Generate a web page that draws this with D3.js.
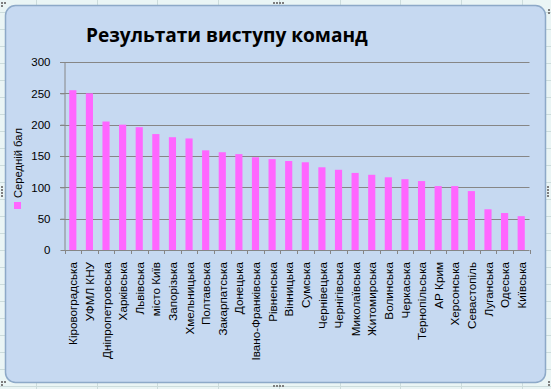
<!DOCTYPE html>
<html><head><meta charset="utf-8">
<script src="https://cdn.jsdelivr.net/npm/d3@7/dist/d3.min.js"></script>
<style>html,body{margin:0;padding:0;background:#EAF5F5;}svg{display:block;}</style>
</head><body>
<svg id="c" width="551" height="389"></svg>
<script>
const title = "Результати виступу команд";
const seriesName = "Середній бал";
const categories = ["Кіровоградська","УФМЛ КНУ","Дніпропетровська","Харківська","Львівська","місто Київ","Запорізька","Хмельницька","Полтавська","Закарпатська","Донецька","Івано-Франківська","Рівненська","Вінницька","Сумська","Чернівецька","Чернігівська","Миколаївська","Житомирська","Волинська","Черкаська","Тернопільська","АР Крим","Херсонська","Севастопіль","Луганська","Одеська","Київська"];
const values = [255,250,205,200,196,185,180,178,159,156,153,148,145,142,140,132,128,123,120,116,113,110,102,102,94,65,59,54];
const yTicks = [0,50,100,150,200,250,300];

const svg = d3.select("#c");
// spreadsheet background grid
const bg = svg.append("g");
bg.append("rect").attr("width",551).attr("height",389).attr("fill","#EAF5F5");
d3.range(36,551,60.7).forEach(x=>bg.append("line").attr("x1",Math.round(x)+0.5).attr("x2",Math.round(x)+0.5).attr("y1",0).attr("y2",389).attr("stroke","#CCDCDC"));
d3.range(-5,389,17).forEach(y=>bg.append("line").attr("y1",Math.round(y)+0.5).attr("y2",Math.round(y)+0.5).attr("x1",0).attr("x2",551).attr("stroke","#CCDCDC"));

// chart area
svg.append("rect").attr("x",5.5).attr("y",5.5).attr("width",540).attr("height",377).attr("rx",10)
  .attr("fill","#C6D9F1").attr("stroke","#8DA9C8").attr("stroke-width",1.5);

// selection handles
const hd = svg.append("g").attr("fill","#7F7F7F");
[[1,2],[548,9],[1,381],[548,381]].forEach(([x,y])=>{
  hd.append("rect").attr("x",x).attr("y",y).attr("width",2).attr("height",2);
  hd.append("rect").attr("x",x+3).attr("y",y).attr("width",2).attr("height",2);
  hd.append("rect").attr("x",x).attr("y",y+3).attr("width",2).attr("height",2);
});
d3.range(4).forEach(i=>{
  hd.append("rect").attr("x",273+i*3).attr("y",2).attr("width",2).attr("height",2);
  hd.append("rect").attr("x",273+i*3).attr("y",385).attr("width",2).attr("height",2);
  hd.append("rect").attr("x",547).attr("y",186+i*3).attr("width",2).attr("height",2);
  hd.append("rect").attr("x",1).attr("y",186+i*3).attr("width",2).attr("height",2);
});

const x0 = 64.5, x1 = 529.5;
const x = d3.scaleBand().domain(categories).range([x0,x1]).paddingInner(0.57).paddingOuter(0.285);
const step = x.step();
const y = d3.scaleLinear().domain([0,300]).range([250,62]);

// gridlines
svg.append("g").selectAll("line").data(yTicks.filter(t=>t>0)).join("line")
  .attr("x1",60).attr("x2",x1).attr("y1",d=>Math.round(y(d))+0.5).attr("y2",d=>Math.round(y(d))+0.5)
  .attr("stroke","#868686").attr("stroke-width",1);

// y axis
const ya = svg.append("g").attr("transform",`translate(${x0},0)`)
  .call(d3.axisLeft(y).tickValues(yTicks).tickSize(4).tickPadding(10).tickSizeOuter(0));
ya.select(".domain").attr("stroke","#868686");
ya.selectAll(".tick line").attr("stroke","#868686");
ya.selectAll(".tick text").attr("font-family","'Liberation Sans',Arial,sans-serif").attr("font-size",11.5).attr("fill","#000");

// bars
svg.append("g").selectAll("rect").data(values).join("rect")
  .attr("x",(d,i)=>x(categories[i])).attr("width",x.bandwidth())
  .attr("y",d=>y(d)).attr("height",d=>y(0)-y(d)).attr("fill","#FF66FF");

// x axis
const xa = svg.append("g");
xa.append("line").attr("x1",x0-0.5).attr("x2",x1).attr("y1",250.5).attr("y2",250.5).attr("stroke","#868686");
xa.selectAll("line.t").data(d3.range(categories.length+1)).join("line").attr("class","t")
  .attr("x1",i=>Math.round(x0+i*step)+0.5).attr("x2",i=>Math.round(x0+i*step)+0.5)
  .attr("y1",250).attr("y2",254).attr("stroke","#868686");
xa.selectAll("text").data(categories).join("text")
  .attr("transform",d=>`translate(${x(d)+x.bandwidth()/2+0.5},262) rotate(-90)`)
  .attr("text-anchor","end").attr("dy","0.35em")
  .attr("font-family","'Liberation Sans',Arial,sans-serif").attr("font-size",11.7).attr("fill","#000")
  .text(d=>d);

// legend
svg.append("rect").attr("x",14).attr("y",202).attr("width",7).attr("height",7).attr("fill","#FF66FF");
svg.append("text").attr("transform","translate(18,198) rotate(-90)").attr("dy","0.35em")
  .attr("font-family","'Liberation Sans',Arial,sans-serif").attr("font-size",11.2).attr("fill","#000").text(seriesName);

// title
const t = svg.append("text").attr("x",86).attr("y",42)
  .attr("font-family","'Open Sans',sans-serif").attr("font-weight","bold").attr("font-size",20).attr("fill","#000").text(title);
const w = t.node().getComputedTextLength();
t.attr("font-size",20*282/w);
</script>
</body></html>
